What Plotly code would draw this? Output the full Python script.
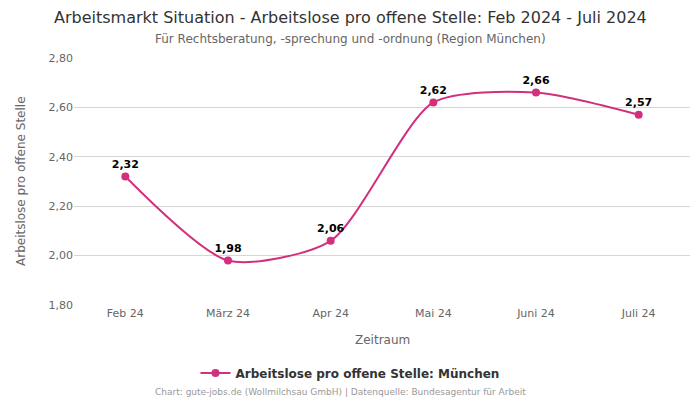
import plotly.graph_objects as go

monate = ['Feb 24', 'März 24', 'Apr 24', 'Mai 24', 'Juni 24', 'Juli 24']
werte = [2.32, 1.98, 2.06, 2.62, 2.66, 2.57]
y_ticks = [1.8, 2.0, 2.2, 2.4, 2.6, 2.8]
y_labels = ['1,80', '2,00', '2,20', '2,40', '2,60', '2,80']

farbe = '#d22f7c'
schrift = 'DejaVu Sans'

# Plotfläche in Pixeln
L, R, T, B = 74, 10, 58, 95
W, H = 700, 400
pw, ph = W - L - R, H - T - B


def px_x(x):
    return (x - L) / pw


def px_y(y):
    return (H - B - y) / ph


fig = go.Figure()
fig.add_trace(go.Scatter(
    x=monate,
    y=werte,
    mode='lines+markers+text',
    name='Arbeitslose pro offene Stelle: München',
    line=dict(color=farbe, width=2, shape='spline', smoothing=0.7),
    marker=dict(color=farbe, size=8),
    text=[f'{v:.2f}'.replace('.', ',') for v in werte],
    textposition='top center',
    textfont=dict(family=schrift, size=11, color='black', weight='bold'),
    cliponaxis=False
))

fig.update_layout(
    width=W,
    height=H,
    paper_bgcolor='white',
    plot_bgcolor='white',
    font=dict(family=schrift, color='#666666'),
    margin=dict(l=L, r=R, t=T, b=B, autoexpand=False),
    xaxis=dict(
        tickfont=dict(size=11, color='#666666'),
        showgrid=False,
        showline=False,
        ticks='',
        range=[-0.5, 5.5],
        automargin=False,
    ),
    yaxis=dict(
        tickvals=y_ticks,
        ticktext=y_labels,
        range=[1.8, 2.8],
        tickfont=dict(size=11, color='#666666'),
        gridcolor='#d6d6d6',
        zeroline=False,
        showline=False,
        ticks='',
        automargin=False,
    ),
    showlegend=True,
    legend=dict(
        orientation='h', x=px_x(350), xanchor='center', y=px_y(373), yanchor='middle',
        font=dict(size=12, color='#333333', weight='bold')
    ),
    annotations=[
        dict(text='Arbeitsmarkt Situation - Arbeitslose pro offene Stelle: Feb 2024 - Juli 2024',
             x=px_x(350), y=px_y(17), font=dict(size=16, color='#333333')),
        dict(text='Für Rechtsberatung, -sprechung und -ordnung (Region München)',
             x=px_x(350), y=px_y(39), font=dict(size=12, color='#666666')),
        dict(text='Zeitraum', x=px_x(382), y=px_y(340), font=dict(size=12, color='#666666')),
        dict(text='Arbeitslose pro offene Stelle', x=px_x(21), y=px_y(181), textangle=-90,
             font=dict(size=12, color='#666666')),
        dict(text='Chart: gute-jobs.de (Wollmilchsau GmbH) | Datenquelle: Bundesagentur für Arbeit',
             x=px_x(340), y=px_y(392), font=dict(size=9, color='#999999')),
    ]
)
fig.update_annotations(xref='paper', yref='paper', showarrow=False,
                       xanchor='center', yanchor='middle')

# Seitenrand des Browsers entfernen, damit die Grafik bei (0,0) beginnt
fig.write_html('out.html', config={'displayModeBar': False},
               post_script="document.body.style.margin='0';")
